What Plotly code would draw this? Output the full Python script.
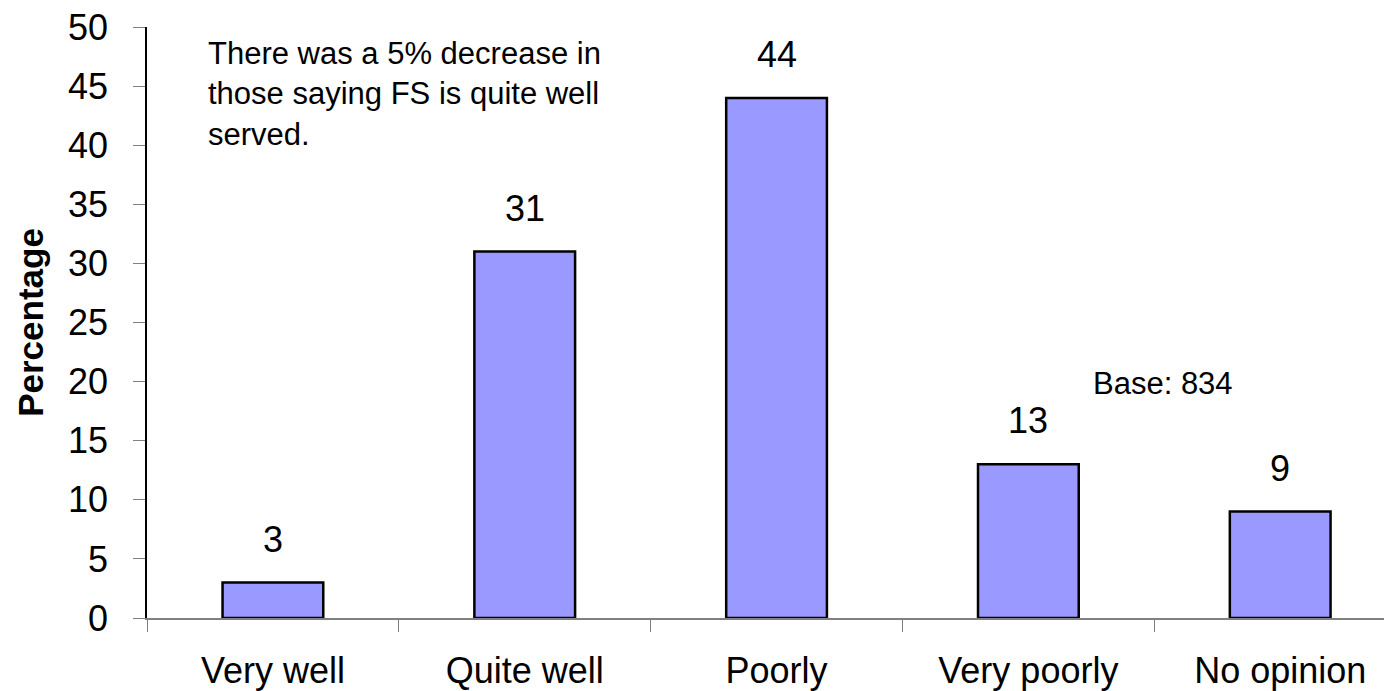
import plotly.graph_objects as go

categories = ["Very well", "Quite well", "Poorly", "Very poorly", "No opinion"]
values = [3, 31, 44, 13, 9]
y_ticks = [0, 5, 10, 15, 20, 25, 30, 35, 40, 45, 50]

FONT = "Liberation Sans, Arial, sans-serif"

fig = go.Figure()
fig.add_trace(go.Bar(
    x=categories, y=values, width=0.4,
    marker=dict(color="#9999FF", line=dict(color="black", width=2.5)),
    showlegend=False, hoverinfo="skip",
))

for c, v in zip(categories, values):
    fig.add_annotation(x=c, y=v, xref="x", yref="y", text=str(v), showarrow=False,
                       yanchor="bottom", yshift=21, font=dict(family=FONT, size=36, color="black"))

fig.add_annotation(x=0.047, y=0.988, xref="paper", yref="paper", xanchor="left", yanchor="top",
                   align="left", showarrow=False,
                   text="There was a 5% decrease in<br>those saying FS is quite well<br>served.",
                   font=dict(family=FONT, size=31, color="black"))
fig.add_annotation(x=0.816, y=0.397, xref="paper", yref="paper", xanchor="center", yanchor="middle",
                   showarrow=False, text="Base: 834", font=dict(family=FONT, size=31, color="black"))

fig.update_layout(
    width=1384, height=683,
    margin=dict(l=139, r=0, t=19, b=73, pad=0),
    paper_bgcolor="white", plot_bgcolor="white",
    font=dict(family=FONT, color="black"),
    xaxis=dict(range=[-0.5, 4.444], tickson="boundaries", ticks="outside", ticklen=12,
               tickcolor="#808080", showline=True, linecolor="#808080", linewidth=1.5,
               showgrid=False, zeroline=False, tickfont=dict(size=36, family=FONT),
               ticklabelstandoff=20, automargin=False),
    yaxis=dict(range=[0, 50], tickvals=y_ticks, ticks="outside", ticklen=12,
               tickcolor="#808080", showline=True, linecolor="black", linewidth=1.5,
               showgrid=False, zeroline=False, tickfont=dict(size=36, family=FONT),
               ticklabelstandoff=18, automargin=False, ticklabeloverflow="allow",
               title=dict(text="<b>Percentage</b>", font=dict(size=35, family=FONT), standoff=14)),
)

fig.write_html("out.html")
